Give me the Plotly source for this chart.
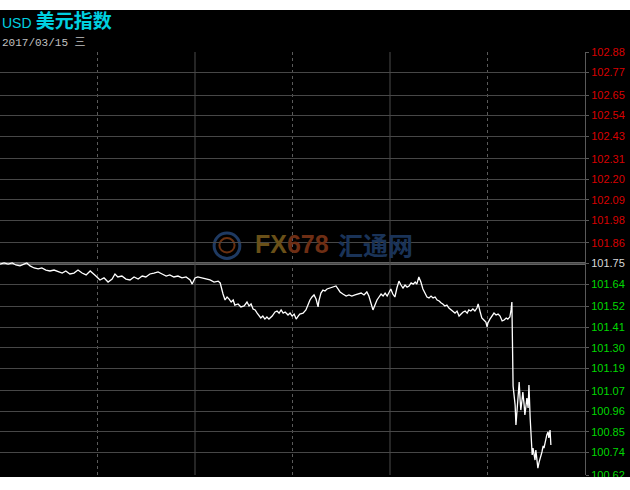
import plotly.graph_objects as go

# minutes since 05:00 (Beijing time) session open
minutes = [0, 10, 20, 30, 39, 49, 59, 66, 74, 84, 94, 103, 113, 123, 133, 143, 153, 162, 172, 182,
           192, 202, 212, 222, 229, 236, 246, 256, 266, 276, 283, 290, 300, 310, 320, 330, 340, 350,
           359, 369, 379, 389, 399, 409, 418, 428, 438, 448, 458, 468, 473, 480, 487, 497, 507, 517,
           527, 537, 542, 546, 549, 554, 559, 564, 569, 574, 578, 586, 593, 601, 608, 613, 618, 623,
           628, 633, 638, 642, 647, 652, 657, 662, 670, 677, 682, 687, 692, 697, 702, 709, 714, 719,
           724, 729, 734, 738, 746, 753, 758, 763, 768, 773, 778, 783, 785, 790, 795, 800, 805, 812,
           820, 827, 832, 837, 844, 852, 859, 866, 874, 881, 889, 896, 903, 908, 913, 918, 923, 928,
           933, 938, 943, 948, 953, 958, 962, 967, 972, 977, 982, 987, 992, 997, 1002, 1007, 1012,
           1017, 1022, 1026, 1031, 1036, 1041, 1046, 1051, 1056, 1061, 1066, 1071, 1076, 1081, 1086,
           1090, 1095, 1100, 1105, 1110, 1115, 1120, 1125, 1130, 1135, 1140, 1145, 1150, 1154, 1159,
           1164, 1169, 1174, 1177, 1182, 1186, 1191, 1196, 1199, 1201, 1206, 1211, 1216, 1221, 1226,
           1231, 1236, 1241, 1246, 1250, 1255, 1258, 1260, 1263, 1265, 1268, 1270, 1273, 1275, 1278,
           1280, 1282, 1285, 1287, 1290, 1292, 1295, 1297, 1300, 1302, 1305, 1307, 1310, 1312, 1314,
           1317, 1319, 1322, 1324, 1327, 1329, 1332, 1334, 1337, 1339, 1342, 1344, 1346, 1349, 1351,
           1354, 1356]

prices = [101.747, 101.753, 101.747, 101.753, 101.742, 101.737, 101.747, 101.753, 101.737, 101.726,
          101.721, 101.726, 101.715, 101.710, 101.715, 101.705, 101.699, 101.710, 101.694, 101.699,
          101.715, 101.699, 101.689, 101.710, 101.694, 101.683, 101.662, 101.673, 101.651, 101.667,
          101.694, 101.678, 101.683, 101.667, 101.662, 101.678, 101.667, 101.683, 101.678, 101.694,
          101.699, 101.705, 101.694, 101.683, 101.689, 101.678, 101.683, 101.673, 101.678, 101.662,
          101.640, 101.673, 101.678, 101.673, 101.667, 101.662, 101.651, 101.656, 101.646, 101.608,
          101.587, 101.555, 101.571, 101.560, 101.544, 101.555, 101.528, 101.534, 101.518, 101.523,
          101.544, 101.523, 101.534, 101.507, 101.502, 101.485, 101.469, 101.459, 101.469, 101.453,
          101.464, 101.453, 101.469, 101.491, 101.496, 101.485, 101.502, 101.485, 101.491, 101.475,
          101.485, 101.469, 101.480, 101.453, 101.469, 101.480, 101.485, 101.502, 101.528, 101.555,
          101.571, 101.582, 101.560, 101.518, 101.550, 101.592, 101.608, 101.603, 101.614, 101.619,
          101.624, 101.630, 101.614, 101.598, 101.587, 101.576, 101.582, 101.576, 101.582, 101.587,
          101.592, 101.582, 101.598, 101.576, 101.544, 101.502, 101.528, 101.555, 101.571, 101.587,
          101.576, 101.592, 101.576, 101.598, 101.614, 101.587, 101.571, 101.619, 101.656, 101.635,
          101.619, 101.635, 101.624, 101.630, 101.646, 101.640, 101.651, 101.640, 101.678, 101.651,
          101.614, 101.592, 101.571, 101.566, 101.576, 101.566, 101.571, 101.555, 101.550, 101.539,
          101.534, 101.523, 101.528, 101.512, 101.502, 101.491, 101.485, 101.496, 101.469, 101.480,
          101.491, 101.496, 101.485, 101.502, 101.496, 101.507, 101.496, 101.512, 101.534, 101.491,
          101.459, 101.448, 101.437, 101.411, 101.432, 101.453, 101.469, 101.485, 101.475, 101.480,
          101.469, 101.443, 101.448, 101.459, 101.453, 101.464, 101.502, 101.544, 101.095, 101.047,
          100.994, 100.887, 100.967, 101.053, 101.117, 101.031, 100.967, 101.021, 101.063, 100.999,
          100.941, 100.994, 101.031, 100.978, 101.101, 100.924, 100.807, 100.727, 100.764, 100.743,
          100.700, 100.753, 100.711, 100.657, 100.689, 100.700, 100.727, 100.743, 100.775, 100.764,
          100.796, 100.807, 100.834, 100.850, 100.818, 100.860, 100.780]

prev_close = 101.75
tick_labels = ["102.88", "102.77", "102.65", "102.54", "102.43", "102.31", "102.20", "102.09",
               "101.98", "101.86", "101.75", "101.64", "101.52", "101.41", "101.30", "101.19",
               "101.07", "100.96", "100.85", "100.74", "100.62"]
session_minutes = 1440
solid_marks = [480, 960]
dotted_marks = [240, 720, 1200]

title_main = "美元指数"
title_code = "USD"
date_text = "2017/03/15 三"

tick_vals = [float(t) for t in tick_labels]


def colour_label(t):
    v = float(t)
    if abs(v - prev_close) < 1e-9:
        c = "#d8d8d8"
    elif v > prev_close:
        c = "#d80000"
    else:
        c = "#00d800"
    return f'<span style="color:{c}">{t}</span>'


tick_text = [colour_label(t) for t in tick_labels]

fig = go.Figure()
fig.add_trace(go.Scatter(x=minutes, y=prices, mode="lines",
                         line=dict(color="#ffffff", width=1.3), hoverinfo="skip",
                         showlegend=False))

shapes = []
# previous close line
shapes.append(dict(type="line", xref="paper", yref="y", x0=0, x1=1, y0=prev_close, y1=prev_close,
                   line=dict(color="#c4c4c4", width=2), layer="below"))
for m in solid_marks:
    shapes.append(dict(type="line", xref="x", yref="paper", x0=m, x1=m, y0=0, y1=1,
                       line=dict(color="#4a4a4a", width=1), layer="below"))
for m in dotted_marks:
    shapes.append(dict(type="line", xref="x", yref="paper", x0=m, x1=m, y0=0, y1=1,
                       line=dict(color="#5a5a5a", width=1, dash="dot"), layer="below"))
# watermark logo
shapes.append(dict(type="circle", xref="paper", yref="paper", x0=0.366, x1=0.410, y0=0.512, y1=0.572,
                   line=dict(color="#1f3a62", width=3), layer="below"))
shapes.append(dict(type="circle", xref="paper", yref="paper", x0=0.375, x1=0.401, y0=0.526, y1=0.560,
                   line=dict(color="#6a3010", width=2), layer="below"))
# white bands (cropped screenshot edges)
shapes.append(dict(type="rect", xref="paper", yref="paper", x0=-0.01, x1=1.1, y0=1.0993, y1=1.2,
                   fillcolor="#ffffff", line=dict(width=0), layer="above"))
shapes.append(dict(type="rect", xref="paper", yref="paper", x0=-0.01, x1=1.1, y0=-0.1, y1=-0.0047,
                   fillcolor="#ffffff", line=dict(width=0), layer="above"))

annotations = [
    dict(xref="paper", yref="paper", x=0.0, y=1.0757, xanchor="left", yanchor="middle",
         text=f'<span style="font-family:Liberation Sans;font-size:14px">{title_code}</span> <b>{title_main}</b>',
         showarrow=False, font=dict(family="Noto Sans CJK SC", size=19, color="#00d0e0")),
    dict(xref="paper", yref="paper", x=0.0, y=1.0213, xanchor="left", yanchor="middle",
         text=date_text, showarrow=False,
         font=dict(family="Liberation Mono, Noto Sans CJK SC", size=11, color="#c0c0c0")),
    dict(xref="paper", yref="paper", x=0.432, y=0.546, xanchor="left", yanchor="middle",
         text='<b><span style="color:#6a5018">FX</span><span style="color:#6e2e14">678</span></b>',
         showarrow=False, font=dict(family="Liberation Sans", size=25)),
    dict(xref="paper", yref="paper", x=0.574, y=0.546, xanchor="left", yanchor="middle",
         text="<b>汇通网</b>", showarrow=False,
         font=dict(family="Noto Sans CJK SC", size=25, color="#1a3358")),
]

fig.update_layout(
    width=630, height=490,
    margin=dict(l=0, r=45, t=52, b=15),
    paper_bgcolor="#000000", plot_bgcolor="#000000",
    shapes=shapes, annotations=annotations,
    xaxis=dict(range=[0, session_minutes], showgrid=False, showticklabels=False, zeroline=False,
               showline=False, ticks="", fixedrange=True),
    yaxis=dict(range=[100.62, 102.88], side="right", tickvals=tick_vals, ticktext=tick_text,
               showgrid=True, gridcolor="#474747", gridwidth=1, zeroline=False,
               showline=True, linecolor="#5a5a5a", linewidth=1, mirror=False,
               ticks="outside", ticklen=3, tickcolor="#5a5a5a",
               tickfont=dict(family="Liberation Sans, Arial", size=11, color="#d8d8d8"),
               fixedrange=True),
    showlegend=False,
)

fig.write_html("out.html", config={"displayModeBar": False},
               post_script="document.body.style.margin='0';document.body.style.overflow='hidden';")
